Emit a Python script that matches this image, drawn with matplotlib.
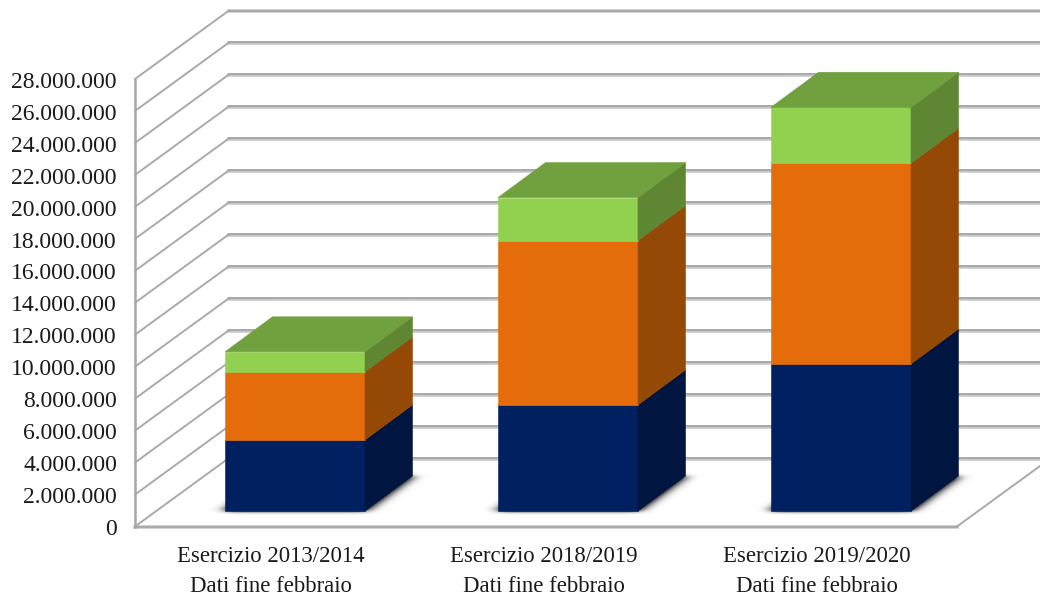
import matplotlib
matplotlib.use('Agg')
import matplotlib.pyplot as plt
import numpy as np
from matplotlib.patches import Polygon
from matplotlib.path import Path

plt.rcParams['font.family'] = ['Liberation Serif', 'DejaVu Serif']

categorie = ['Esercizio 2013/2014\nDati fine febbraio',
             'Esercizio 2018/2019\nDati fine febbraio',
             'Esercizio 2019/2020\nDati fine febbraio']
serieBlu = [4450000, 6640000, 9200000]
serieArancio = [4260000, 10280000, 12560000]
serieVerde = [1250000, 2690000, 3500000]
tickWaarden = list(range(0, 28000001, 2000000))

# kleuren per serie: voorkant, zijkant, bovenkant
kleuren = [('#002060', '#001540', None),
           ('#E46C0A', '#954906', None),
           ('#92D050', '#5F8632', '#71A03E')]

# alles in beeldpixels, de 3d-projectie staat hier
x0, x1 = 135, 957
y0, yTop = 526.5, 79
dx, dy = 94, -68.5
schaal = (y0 - yTop) / 28000000
basisBar = 511
barX = [225, 498, 771]
barB = 140
barDx, barDy = 47.5, -35


def yPix(v):
  return y0 - v * schaal


def vervaag(masker, sigma, as_):
  k = np.arange(-int(3 * sigma), int(3 * sigma) + 1)
  kern = np.exp(-k**2 / (2 * sigma**2))
  kern = kern / kern.sum()
  return np.apply_along_axis(lambda r: np.convolve(r, kern, mode='same'), as_, masker)


fig = plt.figure(figsize=(10.4, 5.96), dpi=100)
ax = fig.add_axes([0, 0, 1, 1])

# rasterlijnen
grijs = '#a8a8a8'
tekstKleur = '#1a1a1a'
for v in tickWaarden:
  y = yPix(v)
  ax.text(117, y + 3.2, f'{v:,}'.replace(',', '.'), ha='right', va='center', fontsize=17, color=tekstKleur)
  if v == 0:
    continue
  ax.plot([x0, x0 + dx], [y, y + dy], color='#aaaaaa', lw=1.4, zorder=1)
  ax.plot([x0 + dx, 1040], [y + dy + 0.6, y + dy + 0.6], color='#c8c8c8', lw=2.6, zorder=0.9)
  ax.plot([x0 + dx, 1040], [y + dy, y + dy], color='#a4a4a4', lw=1.2, zorder=1)

# vloer en as
ax.plot([x0, x0], [yTop, y0], color=grijs, lw=1.8, zorder=1)
ax.plot([x0, x0 + dx], [y0, y0 + dy], color='#aaaaaa', lw=1.4, zorder=1)
ax.plot([x1, x1 + dx], [y0, y0 + dy], color='#aaaaaa', lw=1.4, zorder=1)
ax.plot([x0, x1], [y0 + 0.6, y0 + 0.6], color='#c8c8c8', lw=2.6, zorder=0.9)
ax.plot([x0, x1], [y0, y0], color='#a4a4a4', lw=1.2, zorder=1)
ax.plot([x0 + dx, 1040], [y0 + dy + 0.6, y0 + dy + 0.6], color='#c8c8c8', lw=2.6, zorder=0.9)
ax.plot([x0 + dx, 1040], [y0 + dy, y0 + dy], color='#a4a4a4', lw=1.2, zorder=1)

# schaduw op de vloer, wazige kopie van het grondvlak
xx, yy = np.meshgrid(np.arange(1040) + 0.5, np.arange(596) + 0.5)
punten = np.column_stack([xx.ravel(), yy.ravel()])
masker = np.zeros((596, 1040))
for x in barX:
  r = x + barB
  grond = Path([(x, basisBar), (r, basisBar), (r + barDx, basisBar + barDy), (x + barDx, basisBar + barDy)])
  masker += grond.contains_points(punten).reshape(masker.shape).astype(float)
masker = vervaag(vervaag(masker, 7, 1), 1.8, 0)
beeld = np.zeros((596, 1040, 4))
beeld[..., :3] = 0.3
beeld[..., 3] = np.clip(masker * 2.2, 0, 0.95)
ax.imshow(beeld, extent=(0, 1040, 596, 0), aspect='auto', zorder=2, interpolation='bilinear')

# gestapelde balken
for i, x in enumerate(barX):
  r = x + barB
  onder = 0
  for serie, (voor, zij, boven) in zip([serieBlu, serieArancio, serieVerde], kleuren):
    yOnder = basisBar - onder * schaal
    yBoven = basisBar - (onder + serie[i]) * schaal
    ax.add_patch(Polygon([(x, yOnder), (r, yOnder), (r, yBoven), (x, yBoven)], closed=True, fc=voor, ec=voor, lw=0.4, zorder=3))
    ax.add_patch(Polygon([(r, yOnder), (r + barDx, yOnder + barDy), (r + barDx, yBoven + barDy), (r, yBoven)],
                         closed=True, fc=zij, ec=zij, lw=0.4, zorder=3))
    if boven:
      ax.add_patch(Polygon([(x, yBoven), (r, yBoven), (r + barDx, yBoven + barDy), (x + barDx, yBoven + barDy)],
                           closed=True, fc=boven, ec=boven, lw=0.4, zorder=3))
    onder += serie[i]
  ax.text(x + 46, 571.5, categorie[i], ha='center', va='center', fontsize=16.4, color=tekstKleur, linespacing=1.52)

ax.set_xlim(0, 1040)
ax.set_ylim(596, 0)
ax.axis('off')

fig.savefig('out.png', dpi=100)
plt.close(fig)
